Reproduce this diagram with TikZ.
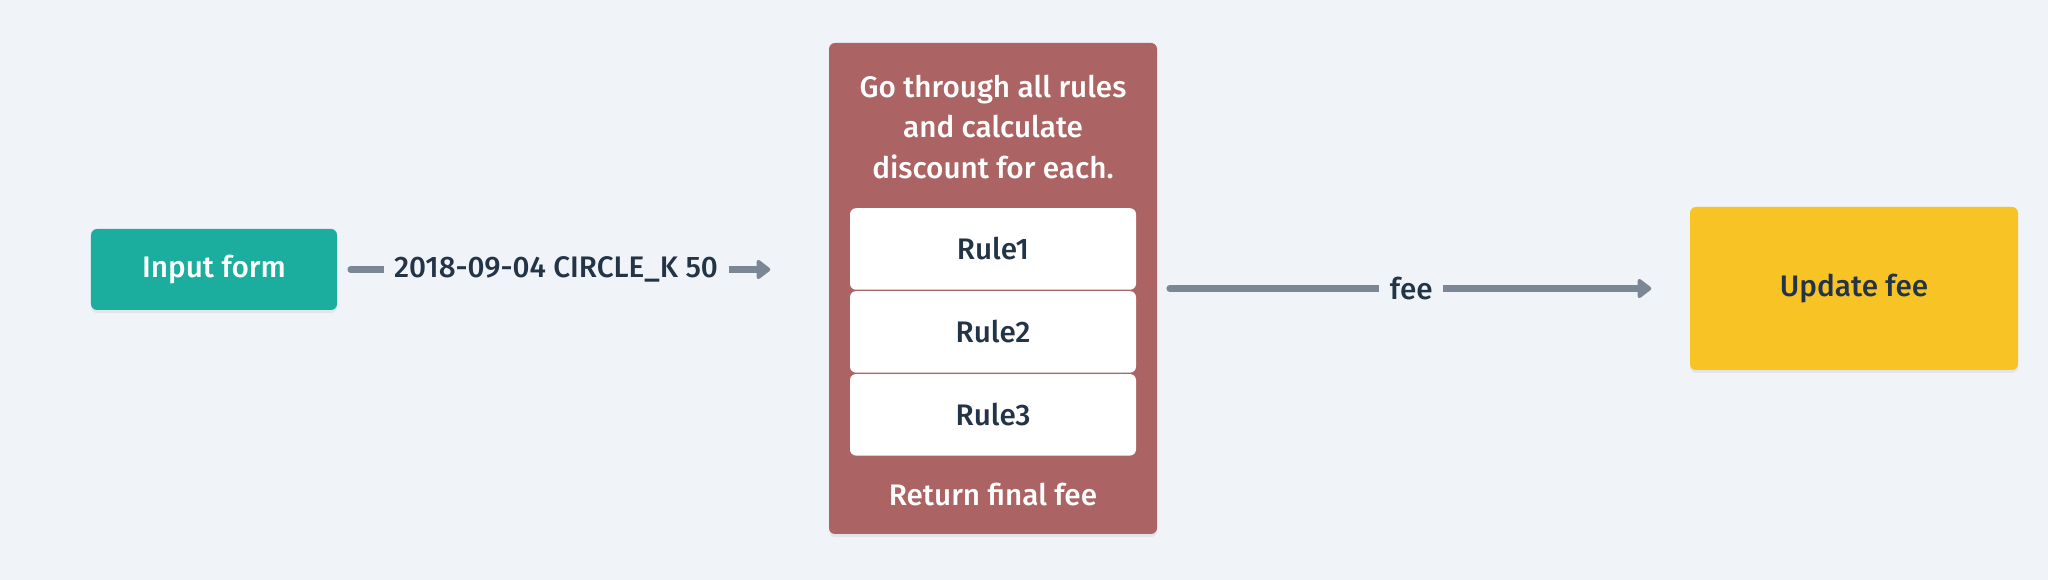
\documentclass[tikz,border=0pt]{standalone}
\usepackage{fontspec}
\setmainfont{Fira Sans Medium}
\usetikzlibrary{positioning,arrows.meta,shadows}
\definecolor{bgcol}{HTML}{F0F4F8}
\definecolor{inputcol}{HTML}{1BAE9F}
\definecolor{enginecol}{HTML}{AC6363}
\definecolor{updatecol}{HTML}{F7C325}
\definecolor{textcol}{HTML}{243447}
\definecolor{arrowcol}{HTML}{7B8794}

\begin{document}
\begin{tikzpicture}[node distance=0cm,font=\fontsize{8.45}{11.6}\selectfont]
	\tikzstyle{box}=[rectangle,rounded corners=0.06cm,inner sep=0pt,drop shadow={opacity=0.12,shadow xshift=0cm,shadow yshift=-0.03cm}]
	\tikzstyle{rulebox}=[box,fill=white,text=textcol,minimum width=2.86cm,minimum height=0.815cm]
	\tikzstyle{flow}=[draw=arrowcol,line width=0.065cm,line cap=round,-{Triangle[length=0.15cm,width=0.22cm,round]}]
	\tikzstyle{lbl}=[fill=bgcol,text=textcol,inner xsep=3pt,inner ysep=1.5pt]
	\fill[bgcol] (0,0) rectangle (20.48,5.8);
		\node[box,fill=inputcol,text=white,minimum width=2.46cm,minimum height=0.81cm] (input) at (2.14,3.105) {Input form};
		\node[box,fill=enginecol,minimum width=3.28cm,minimum height=4.91cm] (engine) at (9.93,2.915) {};
		\node[text=white,align=center] (goal) at (9.93,4.53) {Go through all rules\\and calculate\\discount for each.};
		\node[rulebox] (rule1) at (9.93,3.31) {Rule1};
		\node[rulebox] (rule2) [below=of rule1] {Rule2};
		\node[rulebox] (rule3) [below=of rule2] {Rule3};
		\node[text=white] (result) at (9.93,0.85) {Return final fee};
		\node[box,fill=updatecol,text=textcol,minimum width=3.28cm,minimum height=1.63cm] (update) at (18.54,2.915) {Update fee};
			\draw[flow,shorten <=0.13cm,shorten >=0.58cm] (input) -- node[lbl,pos=0.445] {2018-09-04 CIRCLE\_K 50} (engine.west |- input);
			\draw[flow,shorten <=0.12cm,shorten >=0.38cm] (engine) -- node[lbl,pos=0.477] {fee} (update);
\end{tikzpicture}
\end{document}
